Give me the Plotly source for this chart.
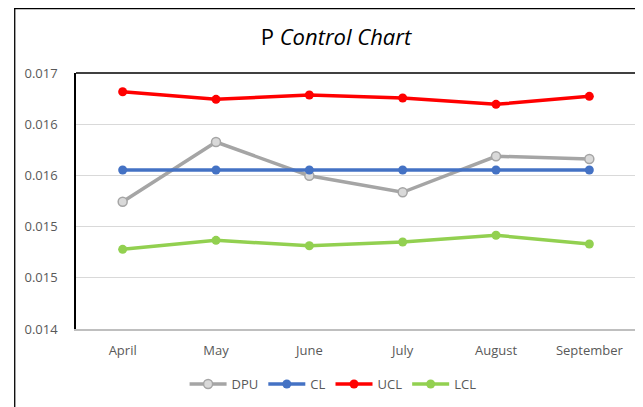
import plotly.graph_objects as go

months = ["April", "May", "June", "July", "August", "September"]
dpu = [0.015243, 0.015826, 0.015497, 0.015335, 0.015687, 0.015660]
cl = [0.015553, 0.015553, 0.015553, 0.015553, 0.015553, 0.015553]
ucl = [0.016317, 0.016243, 0.016285, 0.016256, 0.016194, 0.016272]
lcl = [0.014778, 0.014866, 0.014813, 0.014850, 0.014915, 0.014830]

y_tick_vals = [0.0140, 0.0145, 0.0150, 0.0155, 0.0160, 0.0165]
y_tick_text = ["0.014", "0.015", "0.015", "0.016", "0.016", "0.017"]

# page body has an 8px margin; work in page pixels and convert
OFF = 8
W, H = 643 - OFF, 407 - OFF
PL, PR, PT, PB = 76, 638, 73, 329  # plot area in page pixels
L, T = PL - OFF, PT - OFF
R = W - (PR - OFF)
B = H - (PB - OFF)
pw, ph = PR - PL, PB - PT

def px_x(px):
    return (px - PL) / pw

def px_y(py):
    return (PB - py) / ph

fig = go.Figure()
fig.add_trace(go.Scatter(x=months, y=dpu, name="DPU", mode="lines+markers",
                         line=dict(color="#a5a5a5", width=3.5),
                         marker=dict(size=9, color="#d9d9d9", line=dict(color="#a5a5a5", width=1.5))))
fig.add_trace(go.Scatter(x=months, y=cl, name="CL", mode="lines+markers",
                         line=dict(color="#4472c4", width=3.5),
                         marker=dict(size=9, color="#4472c4")))
fig.add_trace(go.Scatter(x=months, y=ucl, name="UCL", mode="lines+markers",
                         line=dict(color="#ff0000", width=3.5),
                         marker=dict(size=9, color="#ff0000")))
fig.add_trace(go.Scatter(x=months, y=lcl, name="LCL", mode="lines+markers",
                         line=dict(color="#92d050", width=3.5),
                         marker=dict(size=9, color="#92d050")))

shapes = [
    dict(type="line", xref="paper", yref="paper", x0=px_x(14.5), x1=px_x(14.5), y0=px_y(420), y1=px_y(8),
         line=dict(color="black", width=1.3)),
    dict(type="line", xref="paper", yref="paper", x0=px_x(14), x1=px_x(650), y0=px_y(8.6), y1=px_y(8.6),
         line=dict(color="black", width=1.3)),
    dict(type="line", xref="paper", yref="paper", x0=0, x1=1, y0=1, y1=1,
         line=dict(color="black", width=1.5)),
    dict(type="line", xref="paper", yref="paper", x0=1, x1=1, y0=0, y1=1,
         line=dict(color="black", width=1.5)),
]

fig.update_layout(
    width=W, height=H,
    margin=dict(l=L, r=R, t=T, b=B),
    paper_bgcolor="white", plot_bgcolor="white",
    font=dict(family="Open Sans, Liberation Sans, sans-serif", color="#595959", size=13),
    title=dict(text="P <i>Control Chart</i>", x=(336 - OFF) / W, xanchor="center",
               y=1 - (37 - OFF) / H, yanchor="middle", yref="container",
               font=dict(size=22, color="black", family="Open Sans, sans-serif")),
    xaxis=dict(range=[-0.5, 5.5], showgrid=False, showline=True, linecolor="#bfbfbf", linewidth=1.5,
               ticks="", ticklabelstandoff=9, tickfont=dict(size=13, color="#595959"), fixedrange=True),
    yaxis=dict(range=[0.0140, 0.0165], tickvals=y_tick_vals, ticktext=y_tick_text,
               showgrid=True, gridcolor="#d9d9d9", gridwidth=1, zeroline=False,
               showline=True, linecolor="black", linewidth=1.5, mirror=True,
               ticks="", ticklabelstandoff=14, tickfont=dict(size=13, color="#595959")),
    legend=dict(orientation="h", x=px_x(334), xanchor="center", y=px_y(384), yanchor="middle",
                font=dict(size=13, color="#595959"), itemwidth=37, bgcolor="rgba(0,0,0,0)"),
    shapes=shapes,
    showlegend=True,
)

fig.write_html("out.html")
